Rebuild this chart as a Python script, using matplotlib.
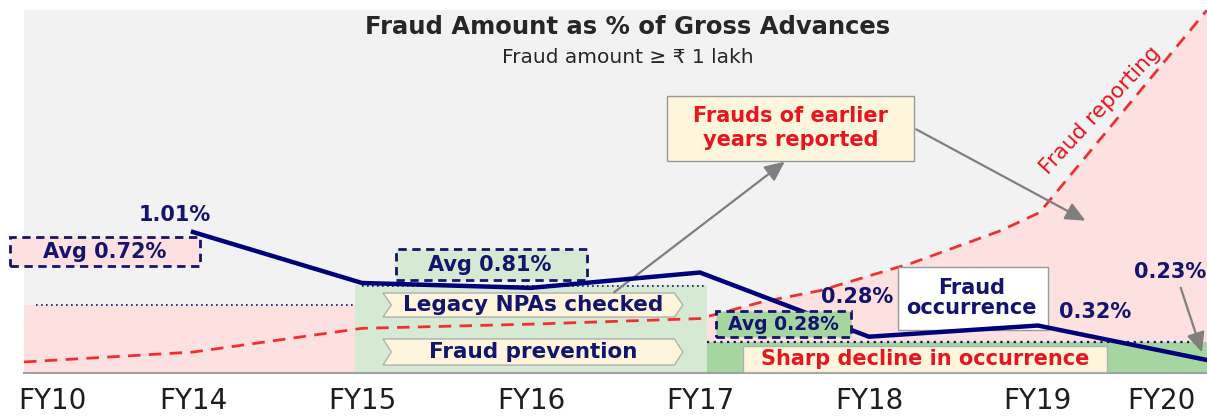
import matplotlib
matplotlib.use('Agg')
import matplotlib.pyplot as plt
from matplotlib.patches import Rectangle, Polygon
import numpy as np

plt.rcParams['font.family'] = ['DejaVu Sans', 'Noto Sans']

# values (x = year index, y = % of gross advances, schematic)
years = ['FY10', 'FY14', 'FY15', 'FY16', 'FY17', 'FY18', 'FY19', 'FY20']
year_pos = [0.17, 1, 2, 3, 4, 5, 6, 6.73]
fraud_x = [1, 2, 3, 4, 5, 6, 7]
fraud_pct = [1.01, 0.645, 0.61, 0.72, 0.26, 0.34, 0.093]
reporting_x = [0, 1, 2, 3, 4, 4.37, 4.71, 5.26, 5.78, 6.01, 7]
reporting_y = [0.079, 0.15, 0.32, 0.35, 0.39, 0.51, 0.59, 0.79, 1.02, 1.15, 2.6]
avg_levels = [0.49, 0.62, 0.22]
period_spans = [(0, 1.96), (1.96, 4.04), (4.04, 7)]

NAVY = '#14146e'
LINE = '#00007a'
RED = '#e8141e'
GREY = '#7f7f7f'
CREAM = '#fdf6dc'
PINK = '#fde0e0'
LGREEN = '#d5e9d3'
MGREEN = '#a6d6a0'

fig = plt.figure(figsize=(12.07, 4.19), dpi=100)
ax = fig.add_axes([0.0199, 0.1098, 0.980, 0.866])
ax.set_facecolor('#f2f2f2')
ax.set_xlim(0, 7)
ax.set_ylim(0, 2.6)

# background zones
ax.fill_between(reporting_x, 0, reporting_y, color=PINK, lw=0, zorder=1)
ax.add_patch(Rectangle((period_spans[0][0], 0), period_spans[0][1] - period_spans[0][0],
                       avg_levels[0], color=PINK, lw=0, zorder=1))
ax.add_patch(Rectangle((period_spans[1][0], 0), period_spans[1][1] - period_spans[1][0],
                       avg_levels[1] + 0.01, color=LGREEN, lw=0, zorder=2))
ax.add_patch(Rectangle((period_spans[2][0], 0), period_spans[2][1] - period_spans[2][0],
                       avg_levels[2], color=MGREEN, lw=0, zorder=2))

# average dotted lines
ax.plot([0.07, 1.95], [avg_levels[0]] * 2, ls=(0, (1, 2)), color=NAVY, lw=1.2, zorder=3)
ax.plot([2.0, 4.04], [avg_levels[1]] * 2, ls=(0, (1, 2)), color=NAVY, lw=1.2, zorder=3)
ax.plot([4.04, 7], [avg_levels[2]] * 2, ls=(0, (1, 2)), color=NAVY, lw=1.6, zorder=3)

# fraud reporting curve
ax.plot(reporting_x, reporting_y, color='#f03030', ls=(0, (4.5, 3)), lw=2, zorder=4)
ax.text(6.37, 1.88, 'Fraud reporting', color=RED, fontsize=15.5, rotation=47,
        ha='center', va='center', zorder=6)


def chevron(x0, x1, y0, y1, text):
    tip = 0.05
    ym = (y0 + y1) / 2
    pts = [(x0, y0), (x1 - tip, y0), (x1, ym), (x1 - tip, y1), (x0, y1), (x0 + tip, ym)]
    ax.add_patch(Polygon(pts, closed=True, fc=CREAM, ec='#b0b0b0', lw=1, zorder=5))
    ax.text((x0 + x1) / 2, ym, text, color=NAVY, fontsize=15.5, fontweight='bold',
            ha='center', va='center', zorder=6)


def box(x0, x1, y0, y1, fc, ec, ls, lw, clip=True, z=5):
    ax.add_patch(Rectangle((x0, y0), x1 - x0, y1 - y0, fc=fc, ec=ec, ls=ls, lw=lw,
                           zorder=z, clip_on=clip))


chevron(2.124, 3.899, 0.401, 0.573, 'Legacy NPAs checked')
chevron(2.124, 3.899, 0.057, 0.244, 'Fraud prevention')

# fraud occurrence line
ax.plot(fraud_x, fraud_pct, color=LINE, lw=3.2, solid_joinstyle='miter', zorder=7)

# average boxes
dash = (0, (3, 2))
box(-0.083, 1.041, 0.766, 0.974, PINK, NAVY, dash, 2, clip=False)
ax.text(0.48, 0.867, 'Avg 0.72%', color=NAVY, fontsize=15, fontweight='bold',
        ha='center', va='center', zorder=8)
box(2.201, 3.331, 0.666, 0.888, LGREEN, NAVY, dash, 2)
ax.text(2.757, 0.772, 'Avg 0.81%', color=NAVY, fontsize=15, fontweight='bold',
        ha='center', va='center', zorder=8)
box(4.095, 4.893, 0.258, 0.444, MGREEN, NAVY, dash, 2, z=7.5)
ax.text(4.494, 0.348, 'Avg 0.28%', color=NAVY, fontsize=13.5, fontweight='bold',
        ha='center', va='center', zorder=8)

# value labels
for xv, yv, s in [(0.893, 1.132, '1.01%'), (4.929, 0.544, '0.28%'),
                  (6.337, 0.437, '0.32%'), (6.781, 0.723, '0.23%')]:
    ax.text(xv, yv, s, color=NAVY, fontsize=15, fontweight='bold',
            ha='center', va='center', zorder=8)

# callout boxes
box(5.172, 6.059, 0.308, 0.759, 'white', '#999999', '-', 1)
ax.text(5.609, 0.535, 'Fraud\noccurrence', color=NAVY, fontsize=15, fontweight='bold',
        ha='center', va='center', linespacing=1.0, zorder=8)
box(4.254, 6.408, 0.007, 0.193, CREAM, '#b0b0b0', '-', 1)
ax.text(5.331, 0.100, 'Sharp decline in occurrence', color=RED, fontsize=15,
        fontweight='bold', ha='center', va='center', zorder=8)
box(3.805, 5.266, 1.519, 1.984, CREAM, '#999999', '-', 1)
ax.text(4.538, 1.755, 'Frauds of earlier\nyears reported', color=RED, fontsize=15,
        fontweight='bold', ha='center', va='center', linespacing=1.2, zorder=8)

# arrows
arrow_kw = dict(arrowstyle='-|>,head_length=1.2,head_width=0.55', color=GREY, lw=1.6)
ax.annotate('', xy=(4.515, 1.526), xytext=(3.479, 0.566), arrowprops=arrow_kw, zorder=6)
ax.annotate('', xy=(6.296, 1.082), xytext=(5.266, 1.755), arrowprops=arrow_kw, zorder=6)
ax.annotate('', xy=(6.976, 0.129), xytext=(6.840, 0.630), arrowprops=arrow_kw, zorder=9)

# axes styling
for s in ['top', 'right', 'left']:
    ax.spines[s].set_visible(False)
ax.spines['bottom'].set_color('#a0a0a0')
ax.spines['bottom'].set_linewidth(1.5)
ax.set_yticks([])
ax.set_xticks(year_pos)
ax.set_xticklabels(years, fontsize=20, color='#1e1e1e')
ax.tick_params(axis='x', length=0, pad=10)

fig.text(0.520, 0.936, 'Fraud Amount as % of Gross Advances', fontsize=17.5,
         fontweight='bold', color='#262626', ha='center', va='center')
fig.text(0.520, 0.862, 'Fraud amount \u2265 \u20b9 1 lakh', fontsize=14.5,
         color='#262626', ha='center', va='center')

fig.savefig('out.png', dpi=100)
